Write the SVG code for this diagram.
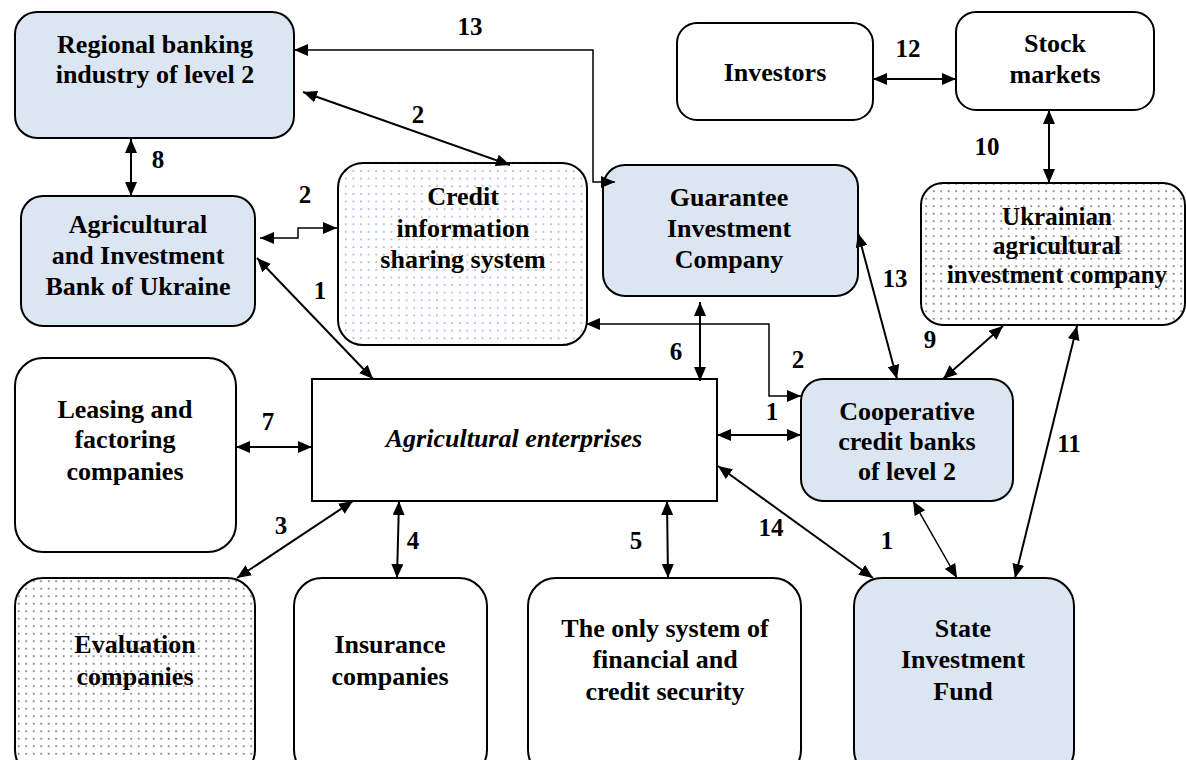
<svg xmlns="http://www.w3.org/2000/svg" width="1186" height="760" viewBox="0 0 1186 760">
  <style>
    .box { stroke: #000; stroke-width: 2; }
    .blue { fill: #dce6f2; }
    .white { fill: #fff; }
    .dotblue { fill: url(#dotsBlue); }
    .dotblack { fill: url(#dotsBlack); }
    text { font-family: "Liberation Serif", "Times New Roman", serif; font-weight: bold; font-size: 26px; fill: #000; text-anchor: middle; }
    .ital { font-style: italic; }
    .lbl { font-size: 25px; }
    .small { font-size: 25px; }
    .con { fill: none; stroke: #000; stroke-width: 2; marker-start: url(#arr); marker-end: url(#arr); }
    .thin { stroke-width: 1.5; }
  </style>
  <defs>
    <marker id="arr" viewBox="0 0 14 12" refX="14" refY="6" markerWidth="14" markerHeight="12" markerUnits="userSpaceOnUse" orient="auto-start-reverse">
      <path d="M0,0 L14,6 L0,12 z" fill="#000"/>
    </marker>
    <pattern id="dotsBlue" width="7.6" height="7.6" patternUnits="userSpaceOnUse">
      <rect width="7.6" height="7.6" fill="#fff"/>
      <circle cx="3.8" cy="3.8" r="0.8" fill="#6a8cc0"/>
    </pattern>
    <pattern id="dotsBlack" width="7.5" height="7.5" patternUnits="userSpaceOnUse">
      <rect width="7.5" height="7.5" fill="#fff"/>
      <circle cx="3.7" cy="3.7" r="0.8" fill="#444"/>
    </pattern>
  </defs>

  <!-- nodes -->
  <g id="regional-banking">
    <rect class="box blue" x="15" y="12" width="279" height="126" rx="22"/>
    <text x="155" y="53">Regional banking</text>
    <text x="155" y="83">industry of level 2</text>
  </g>
  <g id="investors">
    <rect class="box white" x="677" y="23" width="196" height="97" rx="20"/>
    <text x="775" y="81">Investors</text>
  </g>
  <g id="stock-markets">
    <rect class="box white" x="956" y="12" width="198" height="98" rx="20"/>
    <text x="1055" y="52">Stock</text>
    <text x="1055" y="83">markets</text>
  </g>
  <g id="credit-info">
    <rect class="box dotblue" x="338" y="163" width="249" height="182" rx="25"/>
    <text x="463" y="205">Credit</text>
    <text x="463" y="237">information</text>
    <text x="463" y="268">sharing system</text>
  </g>
  <g id="guarantee">
    <rect class="box blue" x="603" y="165" width="255" height="131" rx="22"/>
    <text x="729" y="206">Guarantee</text>
    <text x="729" y="237">Investment</text>
    <text x="729" y="268">Company</text>
  </g>
  <g id="agri-bank">
    <rect class="box blue" x="21" y="196" width="234" height="130" rx="22"/>
    <text x="138" y="233">Agricultural</text>
    <text x="138" y="264">and Investment</text>
    <text x="138" y="295">Bank of Ukraine</text>
  </g>
  <g id="ukr-agri-invest">
    <rect class="box dotblack" x="921" y="183" width="264" height="142" rx="22"/>
    <text class="small" x="1057" y="225">Ukrainian</text>
    <text class="small" x="1057" y="254">agricultural</text>
    <text class="small" x="1057" y="283">investment company</text>
  </g>
  <g id="leasing">
    <rect class="box white" x="15" y="358" width="221" height="194" rx="28"/>
    <text x="125" y="418">Leasing and</text>
    <text x="125" y="448">factoring</text>
    <text x="125" y="480">companies</text>
  </g>
  <g id="enterprises">
    <rect class="box white" x="312" y="379" width="405" height="122"/>
    <text class="ital" x="514" y="447">Agricultural enterprises</text>
  </g>
  <g id="coop-banks">
    <rect class="box blue" x="801" y="379" width="212" height="122" rx="22"/>
    <text x="907" y="420">Cooperative</text>
    <text x="907" y="450">credit banks</text>
    <text x="907" y="480">of level 2</text>
  </g>
  <g id="evaluation">
    <rect class="box dotblack" x="15" y="578" width="240" height="200" rx="28"/>
    <text x="135" y="653">Evaluation</text>
    <text x="135" y="685">companies</text>
  </g>
  <g id="insurance">
    <rect class="box white" x="294" y="578" width="193" height="200" rx="28"/>
    <text x="390" y="653">Insurance</text>
    <text x="390" y="685">companies</text>
  </g>
  <g id="security-system">
    <rect class="box white" x="528" y="578" width="273" height="200" rx="28"/>
    <text x="665" y="637">The only system of</text>
    <text x="665" y="668">financial and</text>
    <text x="665" y="700">credit security</text>
  </g>
  <g id="state-fund">
    <rect class="box blue" x="854" y="578" width="220" height="200" rx="28"/>
    <text x="963" y="637">State</text>
    <text x="963" y="668">Investment</text>
    <text x="963" y="700">Fund</text>
  </g>

  <!-- connectors and their numbers -->
  <g id="connectors">
    <path class="con thin" d="M294,50 H593 V182 H615"/>
    <path class="con" d="M303,92 L510,165"/>
    <path class="con" d="M131,139 V196"/>
    <path class="con thin" d="M260,238 H298 V228 H337"/>
    <path class="con" d="M257,258 L373,379"/>
    <path class="con thin" d="M586,324 H769 V396 H801"/>
    <path class="con" d="M700,302 V381"/>
    <path class="con" d="M717,435 H801"/>
    <path class="con" d="M858,233 L897,379"/>
    <path class="con" d="M1003,326 L943,379"/>
    <path class="con" d="M1049,110 V183"/>
    <path class="con" d="M873,79 H956"/>
    <path class="con" d="M1077,326 L1015,578"/>
    <path class="con" d="M236,447 H312"/>
    <path class="con" d="M353,501 L237,578"/>
    <path class="con" d="M399,501 L397,578"/>
    <path class="con" d="M667,501 L668,578"/>
    <path class="con" d="M718,466 L873,578"/>
    <path class="con thin" d="M913,501 L957,578"/>

    <text class="lbl" x="470" y="35">13</text>
    <text class="lbl" x="418" y="123">2</text>
    <text class="lbl" x="158" y="168">8</text>
    <text class="lbl" x="305" y="203">2</text>
    <text class="lbl" x="320" y="299">1</text>
    <text class="lbl" x="676" y="360">6</text>
    <text class="lbl" x="798" y="368">2</text>
    <text class="lbl" x="772" y="420">1</text>
    <text class="lbl" x="895" y="287">13</text>
    <text class="lbl" x="930" y="348">9</text>
    <text class="lbl" x="987" y="155">10</text>
    <text class="lbl" x="908" y="57">12</text>
    <text class="lbl" x="1069" y="452">11</text>
    <text class="lbl" x="268" y="430">7</text>
    <text class="lbl" x="281" y="534">3</text>
    <text class="lbl" x="413" y="549">4</text>
    <text class="lbl" x="636" y="549">5</text>
    <text class="lbl" x="771" y="536">14</text>
    <text class="lbl" x="887" y="549">1</text>
  </g>
</svg>
